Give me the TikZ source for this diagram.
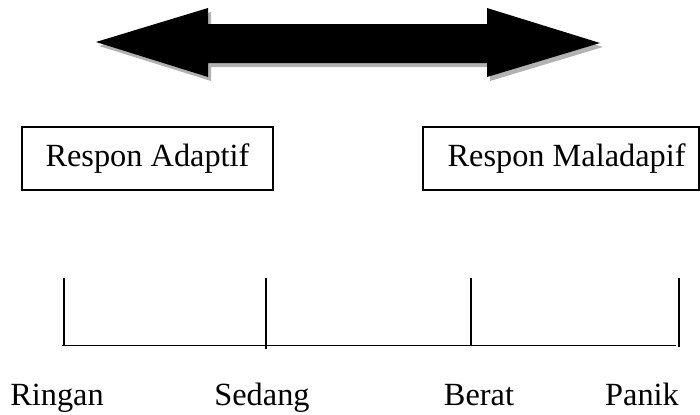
\documentclass[tikz,border=0pt]{standalone}
\usepackage{fontspec}
\setmainfont{Liberation Serif}
\usepackage{tikz}
\usetikzlibrary{positioning}

\begin{document}
\begin{tikzpicture}[
    x=0.025cm, y=-0.025cm,
    respbox/.style={draw, line width=0.8pt, inner sep=0pt, font=\fontsize{23}{27}\selectfont},
    scalelbl/.style={anchor=base, font=\fontsize{23}{27}\selectfont},
    tick/.style={line width=0.8pt}
  ]
    \useasboundingbox (0,0) rectangle (700,415);
    % double arrow with its shadow
    \foreach \dx/\dy/\col in {3/4/black!30, 0/0/black} {
      \fill[\col, shift={(\dx,\dy)}] (96,42) -- (208,8) -- (208,24) -- (487,24) -- (487,8)
        -- (600,43) -- (487,77) -- (487,63) -- (208,63) -- (208,77) -- cycle;
    }
    \node[respbox, minimum width=6.275cm, minimum height=1.575cm] (adaptif) at (147.5,158.5) {Respon Adaptif};
    \node[respbox, minimum width=6.9cm, minimum height=1.575cm] (maladaptif) at (561,158.5) {\hspace{8pt}Respon Maladapif};
    % scale
    \draw[tick] (62,345.5) -- (676,345.5);
    \foreach \x/\yb in {64/346, 266/349, 471/346, 679/347}
      \draw[tick] (\x,278) -- (\x,\yb);
    \node[scalelbl] (ringan) at (57,405) {Ringan};
    \node[scalelbl] (sedang) at (262,405) {Sedang};
    \node[scalelbl] (berat) at (479,405) {Berat};
    \node[scalelbl] (panik) at (642,405) {Panik};
  \end{tikzpicture}
\end{document}
